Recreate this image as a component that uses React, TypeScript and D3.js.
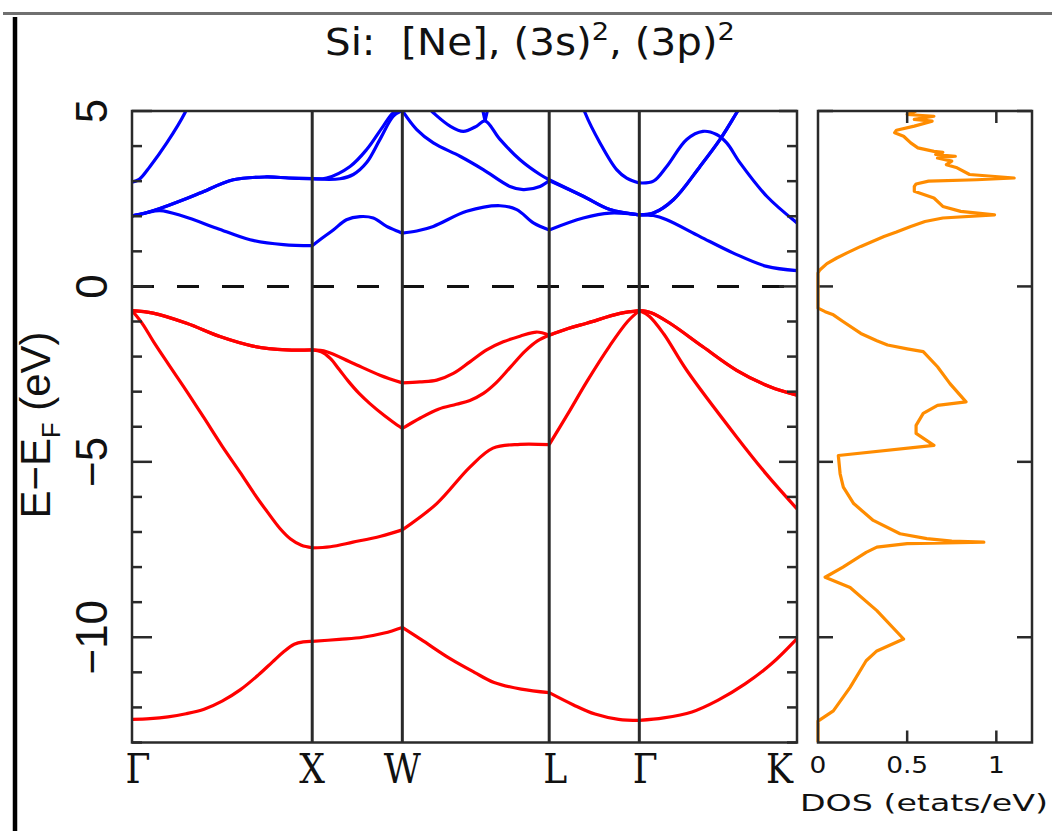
import React from 'react';
import * as d3 from 'd3';

// ---------- data ----------
const kLabels = ['Γ', 'X', 'W', 'L', 'Γ', 'K'];
const kTicks = [0, 1.0, 1.5, 2.315, 2.815, 3.69];
const eMajorTicks = [5, 0, -5, -10];
const eMajorLabels = ['5', '0', '−5', '−10'];
const eMinorTicks = [-13, -12, -11, -9, -8, -7, -6, -4, -3, -2, -1, 1, 2, 3, 4];
const dosTicks = [0, 0.5, 1];
const dosTickLabels = ['0', '0.5', '1'];

type P = [number, number];

// valence bands (k, E)
const vb1: P[] = [
  [0, -12.34], [0.1, -12.32], [0.2, -12.27], [0.3, -12.18], [0.4, -12.05], [0.5, -11.82], [0.6, -11.5], [0.7, -11.08], [0.78, -10.7], [0.84, -10.42], [0.9, -10.2], [0.95, -10.13], [1.0, -10.12],
  [1.15, -10.06], [1.28, -10.0], [1.4, -9.88], [1.5, -9.72],
  [1.62, -10.12], [1.765, -10.61], [1.9, -11.0], [2.009, -11.29], [2.16, -11.48], [2.315, -11.58],
  [2.45, -11.93], [2.569, -12.19], [2.7, -12.34], [2.815, -12.37],
  [2.95, -12.3], [3.107, -12.13], [3.25, -11.8], [3.402, -11.33], [3.55, -10.75], [3.69, -10.04],
];
const vb2: P[] = [
  [0, -0.69], [0.06, -1.08], [0.12, -1.58], [0.2, -2.2], [0.3, -2.96], [0.4, -3.75], [0.5, -4.55], [0.6, -5.3], [0.68, -5.92], [0.75, -6.42], [0.821, -6.9], [0.88, -7.2], [0.94, -7.38], [1.0, -7.45],
  [1.1, -7.42], [1.226, -7.29], [1.38, -7.12], [1.5, -6.94],
  [1.691, -6.19], [1.875, -5.15], [2.003, -4.61], [2.153, -4.5], [2.315, -4.51],
  [2.42, -3.62], [2.523, -2.72], [2.65, -1.7], [2.75, -1.0], [2.815, -0.69],
  [2.87, -0.85], [2.95, -1.35], [3.078, -2.39], [3.355, -4.29], [3.52, -5.35], [3.69, -6.34],
];
const vb3: P[] = [
  [0, -0.69], [0.117, -0.76], [0.303, -1.05], [0.488, -1.43], [0.671, -1.7], [0.858, -1.81], [1.0, -1.81],
  [1.05, -1.86], [1.1, -2.05], [1.15, -2.37], [1.2, -2.7], [1.26, -3.05], [1.32, -3.34], [1.4, -3.68], [1.45, -3.87], [1.5, -4.05],
  [1.6, -3.75], [1.7, -3.5], [1.8, -3.36], [1.875, -3.25], [1.95, -3.05], [2.02, -2.75], [2.1, -2.3], [2.18, -1.85], [2.25, -1.55], [2.315, -1.39],
  [2.42, -1.2], [2.523, -1.05], [2.708, -0.77], [2.815, -0.69],
  [2.88, -0.75], [2.985, -1.05], [3.168, -1.72], [3.355, -2.39], [3.54, -2.86], [3.69, -3.1],
];
const vb4: P[] = [
  [0, -0.69], [0.117, -0.76], [0.303, -1.05], [0.488, -1.43], [0.671, -1.7], [0.858, -1.81], [1.0, -1.81],
  [1.08, -1.86], [1.226, -2.19], [1.376, -2.53], [1.5, -2.75],
  [1.598, -2.72], [1.691, -2.67], [1.783, -2.48], [1.875, -2.15], [1.968, -1.81], [2.06, -1.58], [2.153, -1.42], [2.245, -1.3], [2.315, -1.39],
  [2.42, -1.2], [2.523, -1.05], [2.708, -0.77], [2.815, -0.69],
  [2.88, -0.75], [2.985, -1.05], [3.168, -1.72], [3.355, -2.39], [3.54, -2.86], [3.69, -3.1],
];

// conduction bands (k, E)
const cb5: P[] = [
  [0, 2.01], [0.08, 2.1], [0.155, 2.16], [0.285, 2.0], [0.47, 1.66], [0.655, 1.33], [0.84, 1.19], [1.0, 1.16],
  [1.043, 1.33], [1.117, 1.61], [1.19, 1.9], [1.265, 1.99], [1.339, 1.95], [1.413, 1.71], [1.5, 1.52],
  [1.58, 1.58], [1.672, 1.71], [1.857, 2.14], [2.042, 2.3], [2.135, 2.19], [2.227, 1.81], [2.315, 1.61],
  [2.504, 1.95], [2.652, 2.09], [2.815, 2.04],
  [2.893, 2.02], [2.967, 1.9], [3.152, 1.42], [3.337, 0.95], [3.522, 0.57], [3.69, 0.45],
];
const cb6: P[] = [
  [0, 2.01], [0.08, 2.1], [0.155, 2.22], [0.285, 2.47], [0.377, 2.66], [0.562, 3.04], [0.747, 3.12], [0.87, 3.09], [1.0, 3.07],
  [1.154, 3.07], [1.228, 3.19], [1.302, 3.53], [1.376, 4.19], [1.45, 4.85], [1.5, 5.01],
  [1.58, 4.47], [1.672, 4.09], [1.82, 3.71], [1.949, 3.33], [2.097, 2.85], [2.171, 2.76], [2.264, 2.85], [2.315, 3.02],
  [2.504, 2.57], [2.652, 2.19], [2.815, 2.04],
  [2.893, 2.09], [3.004, 2.47], [3.152, 3.42], [3.263, 4.19], [3.355, 4.95], [3.42, 5.5],
];
const cb7: P[] = [
  [0, 2.01], [0.08, 2.1], [0.155, 2.22], [0.285, 2.47], [0.377, 2.66], [0.562, 3.04], [0.747, 3.12], [0.87, 3.09], [1.0, 3.07],
  [1.08, 3.09], [1.21, 3.42], [1.302, 3.9], [1.394, 4.57], [1.45, 4.95], [1.5, 5.05],
  [1.58, 5.4], [1.672, 4.95], [1.765, 4.57], [1.838, 4.42], [1.913, 4.57], [1.959, 4.72], [2.042, 4.19], [2.153, 3.61], [2.264, 3.19], [2.315, 3.04],
  [2.504, 2.57], [2.652, 2.19], [2.815, 2.04],
  [2.893, 2.09], [3.004, 2.47], [3.152, 3.42], [3.263, 4.19], [3.355, 4.95], [3.42, 5.5],
];
const cb8a: P[] = [[0, 2.97], [0.04, 3.05], [0.1, 3.42], [0.193, 4.09], [0.294, 4.95], [0.33, 5.4]];
const cb8b: P[] = [[1.935, 5.3], [1.959, 4.72], [1.985, 5.3]];
const cb8c: P[] = [
  [2.48, 5.5], [2.514, 4.95], [2.597, 4.09], [2.689, 3.33], [2.745, 3.09], [2.815, 2.95],
  [2.893, 3.0], [2.967, 3.42], [3.078, 4.19], [3.168, 4.42], [3.244, 4.33], [3.3, 4.09], [3.374, 3.52], [3.522, 2.57], [3.69, 1.81],
];

const valenceBands = [vb1, vb2, vb3, vb4];
const conductionBands = [cb5, cb6, cb7, cb8a, cb8c];

// density of states (E, value)
const dosEnergy = [5.0, 4.9, 4.85, 4.76, 4.71, 4.57, 4.45, 4.38, 4.28, 4.09, 3.95, 3.85, 3.82, 3.76, 3.71, 3.66, 3.57, 3.47, 3.38, 3.19, 3.09, 3.04, 3.0, 2.92, 2.85, 2.71, 2.52, 2.28, 2.14, 2.04, 1.95, 1.85, 1.71, 1.55, 1.42, 1.14, 0.95, 0.81, 0.65, 0.47, 0.38, -0.62, -0.72, -0.81, -1.0, -1.34, -1.55, -1.67, -1.78, -1.86, -2.29, -2.77, -3.29, -3.39, -3.62, -3.96, -4.19, -4.53, -4.82, -5.34, -5.72, -6.19, -6.67, -7.05, -7.19, -7.26, -7.29, -7.33, -7.43, -7.58, -8.0, -8.29, -8.58, -9.24, -10.05, -10.39, -10.67, -11.43, -12.1, -12.39, -13.0];
const dosValue = [0.55, 0.50, 0.65, 0.54, 0.64, 0.54, 0.44, 0.43, 0.48, 0.52, 0.56, 0.65, 0.70, 0.66, 0.77, 0.67, 0.75, 0.72, 0.78, 0.85, 1.10, 0.89, 0.62, 0.55, 0.54, 0.54, 0.65, 0.70, 0.80, 0.99, 0.70, 0.60, 0.52, 0.44, 0.37, 0.24, 0.16, 0.105, 0.05, 0.01, 0.0, 0.0, 0.04, 0.086, 0.14, 0.24, 0.33, 0.39, 0.50, 0.59, 0.67, 0.74, 0.83, 0.67, 0.59, 0.55, 0.55, 0.65, 0.114, 0.124, 0.142, 0.20, 0.31, 0.46, 0.61, 0.75, 0.93, 0.50, 0.33, 0.27, 0.14, 0.04, 0.18, 0.33, 0.48, 0.33, 0.27, 0.18, 0.086, 0.0, 0.0];

// ---------- layout ----------
const W = 1052, H = 831;
const bandL = 132, bandR = 797, plotT = 111, plotB = 742.5;
const dosL = 818, dosR = 1032;

const xK = d3.scaleLinear().domain([0, 3.69]).range([bandL, bandR]);
const yE = d3.scaleLinear().domain([-13, 5]).range([plotB, plotT]);
const xD = d3.scaleLinear().domain([0, 1.2]).range([dosL, dosR]);

const isSym = (k: number) => kTicks.some((t) => Math.abs(t - k) < 1e-6);

function segments(pts: P[]): P[][] {
  const out: P[][] = [];
  let cur: P[] = [];
  pts.forEach((p, i) => {
    cur.push(p);
    if (isSym(p[0]) && i > 0 && i < pts.length - 1) {
      out.push(cur);
      cur = [p];
    }
  });
  if (cur.length > 1) out.push(cur);
  return out;
}

const bandLine = d3
  .line<P>()
  .x((d) => xK(d[0]))
  .y((d) => yE(d[1]))
  .curve(d3.curveCatmullRom.alpha(0.5));

const kinkLine = d3
  .line<P>()
  .x((d) => xK(d[0]))
  .y((d) => yE(d[1]));

const dosPts: P[] = dosEnergy.slice(0, Math.min(dosEnergy.length, dosValue.length)).map((e, i) => [dosValue[i], e]);
const dosLine = d3
  .line<P>()
  .x((d) => xD(d[0]))
  .y((d) => yE(d[1]));

const frameColor = '#2a2a2a';

export default function App() {
  return (
    <svg
      width={W}
      height={H}
      viewBox={`0 0 ${W} ${H}`}
      style={{ position: 'absolute', left: 0, top: 0, background: '#fff' }}
    >
      <defs>
        <clipPath id="bandClip">
          <rect x={bandL} y={plotT} width={bandR - bandL} height={plotB - plotT} />
        </clipPath>
        <clipPath id="dosClip">
          <rect x={dosL - 2} y={plotT} width={dosR - dosL + 2} height={plotB - plotT} />
        </clipPath>
      </defs>
      <rect x={0} y={0} width={W} height={H} fill="#fff" />

      {/* page decorations */}
      <line x1={3} x2={W} y1={13.5} y2={13.5} stroke="#707070" strokeWidth={3} />
      <line x1={15} x2={15} y1={17} y2={H} stroke="#000" strokeWidth={4.5} />

      {/* title */}
      <text
        x={325}
        y={55}
        fontFamily="DejaVu Sans"
        fontSize={37}
        textLength={410}
        lengthAdjust="spacingAndGlyphs"
        fill="#111"
      >
        {'Si:\u00a0\u00a0[Ne], (3s)'}
        <tspan dy={-15} fontSize={25}>2</tspan>
        <tspan dy={15}>{', (3p)'}</tspan>
        <tspan dy={-15} fontSize={25}>2</tspan>
      </text>

      {/* band panel */}
      <g clipPath="url(#bandClip)">
        {valenceBands.map((b, bi) =>
          segments(b).map((s, si) => (
            <path key={`v${bi}-${si}`} d={bandLine(s) || ''} fill="none" stroke="#ff0000" strokeWidth={3.2} />
          ))
        )}
        {conductionBands.map((b, bi) =>
          segments(b).map((s, si) => (
            <path key={`c${bi}-${si}`} d={bandLine(s) || ''} fill="none" stroke="#0000ff" strokeWidth={3.2} />
          ))
        )}
        <path d={kinkLine(cb8b) || ''} fill="none" stroke="#0000ff" strokeWidth={3.2} />
      </g>

      {/* Fermi level */}
      <line
        x1={bandL}
        x2={bandR}
        y1={yE(0)}
        y2={yE(0)}
        stroke="#111"
        strokeWidth={3}
        strokeDasharray="22 23"
      />

      {/* symmetry lines */}
      {kTicks.slice(1, -1).map((k, i) => (
        <line key={`sym${i}`} x1={xK(k)} x2={xK(k)} y1={plotT} y2={plotB} stroke={frameColor} strokeWidth={3} />
      ))}

      {/* y ticks band panel */}
      {eMinorTicks.map((e) => (
        <g key={`mn${e}`}>
          <line x1={bandL} x2={bandL + 10} y1={yE(e)} y2={yE(e)} stroke={frameColor} strokeWidth={2.5} />
          <line x1={bandR} x2={bandR - 10} y1={yE(e)} y2={yE(e)} stroke={frameColor} strokeWidth={2.5} />
        </g>
      ))}
      {eMajorTicks.map((e) => (
        <g key={`mj${e}`}>
          <line x1={bandL} x2={bandL + 20} y1={yE(e)} y2={yE(e)} stroke={frameColor} strokeWidth={2.5} />
          <line x1={bandR} x2={bandR - 18} y1={yE(e)} y2={yE(e)} stroke={frameColor} strokeWidth={2.5} />
          <line x1={dosL} x2={dosL + 15} y1={yE(e)} y2={yE(e)} stroke={frameColor} strokeWidth={2.5} />
          <line x1={dosR} x2={dosR - 15} y1={yE(e)} y2={yE(e)} stroke={frameColor} strokeWidth={2.5} />
        </g>
      ))}

      {/* frames */}
      <rect x={bandL} y={plotT} width={bandR - bandL} height={plotB - plotT} fill="none" stroke={frameColor} strokeWidth={2.5} />

      {/* y tick labels */}
      {eMajorTicks.map((e, i) => (
        <text
          key={`yl${e}`}
          transform={`translate(107,${yE(e)}) rotate(-90)`}
          textAnchor="middle"
          fontFamily="Liberation Sans"
          fontSize={44}
          fill="#111"
        >
          {eMajorLabels[i]}
        </text>
      ))}

      {/* y axis label */}
      <text
        transform="translate(50,425) scale(1.2,1) rotate(-90)"
        textAnchor="middle"
        fontFamily="Liberation Sans"
        fontSize={36}
        textLength={187}
        lengthAdjust="spacingAndGlyphs"
        fill="#111"
      >
        {'E−E'}
        <tspan dy={8} fontSize={22}>F</tspan>
        <tspan dy={-8}>{' (eV)'}</tspan>
      </text>

      {/* k labels */}
      {kLabels.map((lab, i) => {
        const last = i === kLabels.length - 1;
        const x = last ? xK(kTicks[i]) - 4 : xK(kTicks[i]) + (lab === 'Γ' ? 6 : lab === 'L' ? 6 : 0);
        return (
          <text
            key={`kl${i}`}
            transform={`translate(${x},783) scale(0.88,1)`}
            textAnchor={last ? 'end' : 'middle'}
            fontFamily="DejaVu Serif"
            fontSize={41}
            fill="#111"
          >
            {lab}
          </text>
        );
      })}

      {/* DOS panel */}
      <g clipPath="url(#dosClip)">
        <path d={dosLine(dosPts) || ''} fill="none" stroke="#ff8c00" strokeWidth={3.2} strokeLinejoin="round" />
      </g>
      {dosTicks.slice(1).map((t) => (
        <g key={`dt${t}`}>
          <line x1={xD(t)} x2={xD(t)} y1={plotT} y2={plotT + 12} stroke={frameColor} strokeWidth={2.5} />
          <line x1={xD(t)} x2={xD(t)} y1={plotB} y2={plotB - 12} stroke={frameColor} strokeWidth={2.5} />
        </g>
      ))}
      <rect x={dosL} y={plotT} width={dosR - dosL} height={plotB - plotT} fill="none" stroke={frameColor} strokeWidth={2.5} />
      {dosTicks.map((t, i) => (
        <text
          key={`dl${t}`}
          transform={`translate(${xD(t)},773) scale(1.15,1)`}
          textAnchor="middle"
          fontFamily="DejaVu Sans"
          fontSize={23}
          fill="#111"
        >
          {dosTickLabels[i]}
        </text>
      ))}
      <text
        x={800}
        y={811}
        fontFamily="DejaVu Sans"
        fontSize={23}
        textLength={248}
        lengthAdjust="spacingAndGlyphs"
        fill="#111"
      >
        DOS (etats/eV)
      </text>
    </svg>
  );
}
